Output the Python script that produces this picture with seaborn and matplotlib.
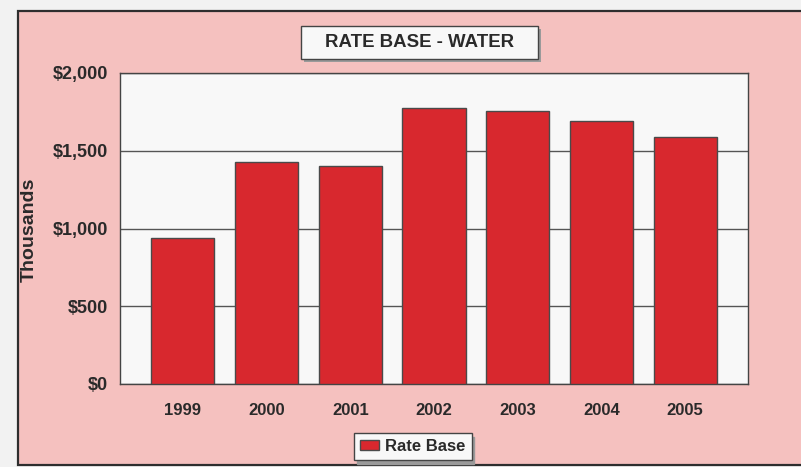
import matplotlib
matplotlib.use("Agg")
import matplotlib.pyplot as plt
from matplotlib.patches import Rectangle
import seaborn as sns
import pandas as pd

# ---- data ----
years = ["1999", "2000", "2001", "2002", "2003", "2004", "2005"]
rate_base = [940, 1430, 1405, 1778, 1755, 1691, 1590]
ytick_values = [0, 500, 1000, 1500, 2000]
ytick_labels = ["$0", "$500", "$1,000", "$1,500", "$2,000"]
title = "RATE BASE - WATER"
ylabel = "Thousands"
series_name = "Rate Base"

df = pd.DataFrame({"year": years, "value": rate_base})

sns.set_theme(style="white")
plt.rcParams["font.family"] = ["Liberation Sans", "DejaVu Sans"]
plt.rcParams["font.weight"] = "bold"

W, H = 801, 467
fig = plt.figure(figsize=(W / 100, H / 100), dpi=100)
fig.patch.set_facecolor("#F2F2F2")

# pink panel with dark border
panel = Rectangle((18 / W, (H - 465) / H), 1.2, (465 - 11) / H,
                  transform=fig.transFigure, facecolor="#F5C1BF",
                  edgecolor="#2E2E2E", linewidth=1.6, zorder=0)
fig.add_artist(panel)

ax = fig.add_axes([120 / W, (H - 384) / H, 628 / W, 311 / H])
ax.set_facecolor("#F8F8F8")

sns.barplot(data=df, x="year", y="value", color="#D8282E", saturation=1,
            edgecolor="#4A4A4A", linewidth=1.0, width=0.757, ax=ax,
            label=series_name, zorder=3)

ax.set_xlim(-0.75, 6.75)
ax.set_ylim(0, 2000)
ax.set_yticks(ytick_values)
ax.set_yticklabels(ytick_labels)
ax.yaxis.grid(True, color="#555555", linewidth=1.0)
ax.xaxis.grid(False)
ax.set_axisbelow(True)
ax.set_xlabel("")
ax.set_ylabel("")
for s in ax.spines.values():
    s.set_visible(True)
    s.set_color("#444444")
    s.set_linewidth(1.0)

ax.tick_params(axis="x", length=0, pad=13.5, labelsize=12, labelcolor="#2A2A2A")
ax.tick_params(axis="y", length=0, pad=8.5, labelsize=13, labelcolor="#2A2A2A")
for t in ax.get_xticklabels() + ax.get_yticklabels():
    t.set_fontweight("bold")

# y label
fig.text(29.5 / W, 1 - 229.5 / H, ylabel, rotation=90, ha="center", va="center",
         fontsize=14, fontweight="bold", color="#2A2A2A")

# title box with shadow
bx0, bx1, by0, by1 = 300.7, 537.7, 25.7, 59.0
shadow = Rectangle(((bx0 + 3) / W, (H - by1 - 3) / H), (bx1 - bx0) / W, (by1 - by0) / H,
                   transform=fig.transFigure, facecolor="#9A9A9A", edgecolor="none", zorder=4)
fig.add_artist(shadow)
tbox = Rectangle((bx0 / W, (H - by1) / H), (bx1 - bx0) / W, (by1 - by0) / H,
                 transform=fig.transFigure, facecolor="#F8F8F8", edgecolor="#444444",
                 linewidth=1.0, zorder=5)
fig.add_artist(tbox)
fig.text((bx0 + bx1) / 2 / W, 1 - (by0 + by1) / 2 / H, title, ha="center", va="center",
         fontsize=13.4, fontweight="bold", color="#2A2A2A", zorder=6)

# legend
leg = ax.legend(loc="center", bbox_to_anchor=(413 / W, 1 - 446.5 / H),
                bbox_transform=fig.transFigure, frameon=True, fancybox=False,
                shadow={"ox": 2, "oy": -3, "color": "#9A9A9A", "alpha": 1},
                framealpha=1, fontsize=12, borderpad=0.35, handlelength=1.12,
                handleheight=0.56, handletextpad=0.38, borderaxespad=0)
leg.get_frame().set_facecolor("#F8F8F8")
leg.get_frame().set_edgecolor("#444444")
leg.get_frame().set_linewidth(1.0)
for t in leg.get_texts():
    t.set_fontweight("bold")
    t.set_color("#2A2A2A")

fig.savefig("out.png", dpi=100, facecolor=fig.get_facecolor())
